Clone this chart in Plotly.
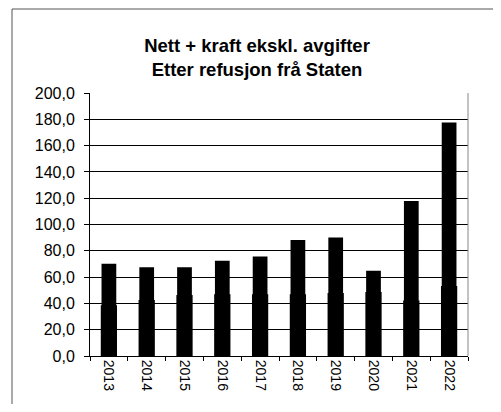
import plotly.graph_objects as go

# data
years = ["2013", "2014", "2015", "2016", "2017", "2018", "2019", "2020", "2021", "2022"]
total = [70.2, 67.5, 67.5, 72.4, 75.6, 88.3, 90.2, 64.8, 117.8, 177.5]
nett = [38.6, 42.5, 46.3, 46.9, 47.0, 47.0, 48.0, 48.6, 42.3, 53.2]

y_ticks = [0, 20, 40, 60, 80, 100, 120, 140, 160, 180, 200]

# page body has an 8px margin, so the figure is sized to fit inside it
W, H = 485, 396
L, T, R, B = 82, 85, 25, 48
plot_w = W - L - R
plot_h = H - T - B

fig = go.Figure()
fig.add_trace(go.Bar(x=years, y=total, width=0.39, marker_color="black",
                     marker_line_width=0, name="Nett + kraft"))
fig.add_trace(go.Bar(x=years, y=nett, width=0.43, marker_color="black",
                     marker_line_width=0, name="Nett"))

fig.update_layout(
    width=W, height=H,
    barmode="overlay",
    showlegend=False,
    separators=", ",
    paper_bgcolor="white", plot_bgcolor="white",
    margin=dict(l=L, r=R, t=T, b=B),
    font=dict(family="Liberation Sans, Arial, sans-serif", color="black"),
    title=dict(
        text="<b>Nett + kraft ekskl. avgifter<br>Etter refusjon frå Staten</b>",
        x=(257 - 8) / W, xref="container", xanchor="center",
        y=1 - 44 / H, yref="container", yanchor="middle",
        font=dict(size=18.5, color="black"),
    ),
)

fig.update_yaxes(
    range=[0, 200], tickvals=y_ticks, tickformat=".1f",
    showgrid=True, gridcolor="black", gridwidth=1,
    showline=True, linecolor="black", linewidth=1,
    ticks="outside", ticklen=5, tickcolor="black",
    ticklabelstandoff=6,
    tickfont=dict(size=16), zeroline=False,
)
fig.update_xaxes(
    type="category", tickangle=90, tickson="boundaries",
    showline=True, linecolor="black", linewidth=1,
    ticks="outside", ticklen=4, tickcolor="black",
    tickfont=dict(size=14), showgrid=False,
)

# right edge of plot area
fig.add_shape(type="line", xref="paper", yref="paper", x0=1, x1=1, y0=0, y1=1,
              line=dict(color="#888888", width=1))
# outer chart frame: only top and left edges fall inside the picture
fx = (4 - L) / plot_w
fy = (T + plot_h - 1) / plot_h
fx_end = (W - L) / plot_w
fy_end = -B / plot_h
fig.add_shape(type="line", xref="paper", yref="paper", x0=fx, x1=fx_end, y0=fy, y1=fy,
              line=dict(color="#555555", width=1))
fig.add_shape(type="line", xref="paper", yref="paper", x0=fx, x1=fx, y0=fy, y1=fy_end,
              line=dict(color="#555555", width=1))

fig.write_html("out.html")
